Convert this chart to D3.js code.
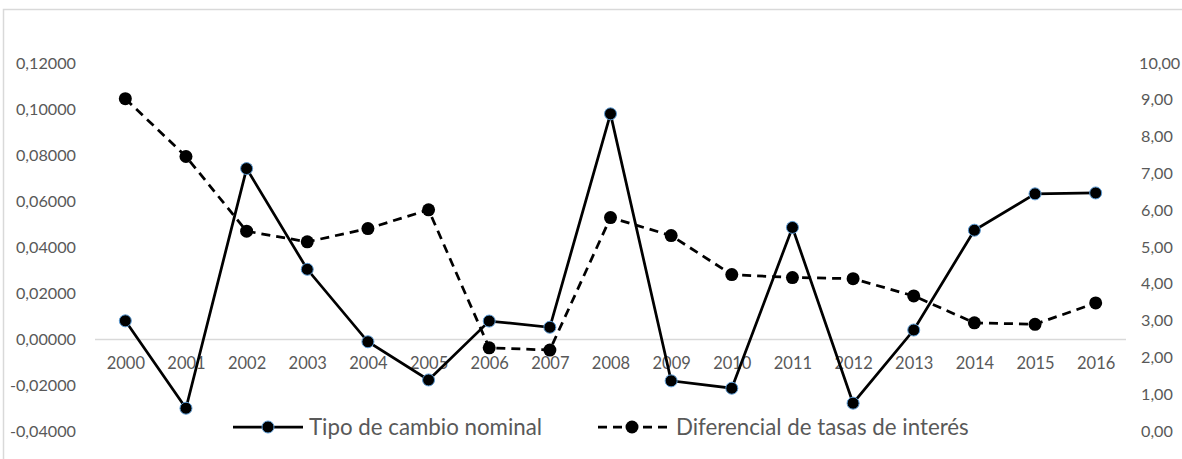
<!DOCTYPE html>
<html>
<head>
<meta charset="utf-8">
<script src="https://cdn.jsdelivr.net/npm/d3@7"></script>
<style>
  html, body { margin: 0; padding: 0; background: #fff; }
  svg text { font-family: Lato, "Open Sans", sans-serif; fill: #595959; }
</style>
</head>
<body>
<svg id="chart" width="1182" height="459"></svg>
<script>
// Years on the category axis
const years = ["2000","2001","2002","2003","2004","2005","2006","2007","2008",
               "2009","2010","2011","2012","2013","2014","2015","2016"];

// Nominal exchange-rate variation (left axis)
const tipoCambio = [0.0079, -0.0301, 0.0741, 0.0303, -0.0012, -0.0178, 0.0078, 0.0051, 0.0979,
                    -0.0182, -0.0214, 0.0485, -0.0279, 0.0039, 0.0473, 0.0631, 0.0635];

// Interest-rate differential (right axis)
const diferencial = [9.03, 7.46, 5.43, 5.14, 5.50, 6.01, 2.26, 2.20, 5.80,
                     5.31, 4.25, 4.17, 4.14, 3.67, 2.94, 2.90, 3.48];

// Axis tick values
const leftTicks = [-0.04, -0.02, 0, 0.02, 0.04, 0.06, 0.08, 0.10, 0.12];
const rightTicks = [0, 1, 2, 3, 4, 5, 6, 7, 8, 9, 10];

const seriesNames = ["Tipo de cambio nominal", "Diferencial de tasas de interés"];

const svg = d3.select("#chart");

// Outer chart frame (only the top and left edges are inside the view)
svg.append("path")
  .attr("d", "M3.5,459 L3.5,9.5 L1182,9.5")
  .attr("fill", "none")
  .attr("stroke", "#d9d9d9")
  .attr("stroke-width", 1.5);

const plot = { left: 95, right: 1126, top: 63, bottom: 431 };

const x = d3.scalePoint()
  .domain(years)
  .range([plot.left, plot.right])
  .padding(0.5);

const yL = d3.scaleLinear().domain([-0.04, 0.12]).range([plot.bottom, plot.top]);
const yR = d3.scaleLinear().domain([0, 10]).range([plot.bottom, plot.top]);

const fmtL = v => d3.format(".5f")(v).replace(".", ",").replace("−", "-");
const fmtR = v => d3.format(".2f")(v).replace(".", ",");

const tickFont = 16.2;

// Left value axis labels
svg.append("g")
  .selectAll("text")
  .data(leftTicks)
  .join("text")
  .attr("x", 76)
  .attr("y", d => yL(d))
  .attr("dy", "0.35em")
  .attr("text-anchor", "end")
  .attr("font-size", tickFont)
  .text(fmtL);

// Right value axis labels
svg.append("g")
  .selectAll("text")
  .data(rightTicks)
  .join("text")
  .attr("x", d => d >= 10 ? 1139 : 1141)
  .attr("y", d => yR(d))
  .attr("dy", "0.35em")
  .attr("text-anchor", "start")
  .attr("font-size", tickFont)
  .text(fmtR);

// Category axis along zero, labels just beneath it
const xAxis = d3.axisBottom(x).tickSize(0).tickPadding(0);
const gx = svg.append("g")
  .attr("transform", `translate(0,${yL(0)})`)
  .call(xAxis);
gx.select(".domain")
  .attr("d", `M${plot.left},0.5H${plot.right}`)
  .attr("stroke", "#d9d9d9")
  .attr("stroke-width", 1.5);
gx.selectAll(".tick text")
  .attr("y", 24)
  .attr("dy", "0.35em")
  .attr("font-size", 16.5)
  .attr("font-family", "Lato, sans-serif")
  .attr("fill", "#595959");

// Interest-rate differential: dashed line with black dots
const lineR = d3.line().x((d, i) => x(years[i])).y(d => yR(d));
svg.append("path")
  .datum(diferencial)
  .attr("d", lineR)
  .attr("fill", "none")
  .attr("stroke", "#000")
  .attr("stroke-width", 2.75)
  .attr("stroke-dasharray", "9,6");
svg.append("g")
  .selectAll("circle")
  .data(diferencial)
  .join("circle")
  .attr("cx", (d, i) => x(years[i]))
  .attr("cy", d => yR(d))
  .attr("r", 6.5)
  .attr("fill", "#000");

// Nominal exchange rate: solid line with blue-rimmed dots
const lineL = d3.line().x((d, i) => x(years[i])).y(d => yL(d));
svg.append("path")
  .datum(tipoCambio)
  .attr("d", lineL)
  .attr("fill", "none")
  .attr("stroke", "#000")
  .attr("stroke-width", 2.75);
svg.append("g")
  .selectAll("circle")
  .data(tipoCambio)
  .join("circle")
  .attr("cx", (d, i) => x(years[i]))
  .attr("cy", d => yL(d))
  .attr("r", 6)
  .attr("fill", "#000")
  .attr("stroke", "#5b9bd5")
  .attr("stroke-width", 1);

// Legend
const legendY = 427;
const legendFont = 22.3;
const lg = svg.append("g");
// solid entry
lg.append("line")
  .attr("x1", 233).attr("x2", 303).attr("y1", legendY).attr("y2", legendY)
  .attr("stroke", "#000").attr("stroke-width", 2.75);
lg.append("circle")
  .attr("cx", 268).attr("cy", legendY).attr("r", 6)
  .attr("fill", "#000").attr("stroke", "#5b9bd5").attr("stroke-width", 1);
lg.append("text")
  .attr("x", 309).attr("y", legendY).attr("dy", "0.35em")
  .attr("font-size", legendFont)
  .text(seriesNames[0]);
// dashed entry
lg.append("line")
  .attr("x1", 598).attr("x2", 668).attr("y1", legendY).attr("y2", legendY)
  .attr("stroke", "#000").attr("stroke-width", 2.75)
  .attr("stroke-dasharray", "9,6");
lg.append("circle")
  .attr("cx", 632).attr("cy", legendY).attr("r", 6.5)
  .attr("fill", "#000");
lg.append("text")
  .attr("x", 676).attr("y", legendY).attr("dy", "0.35em")
  .attr("font-size", legendFont)
  .text(seriesNames[1]);
</script>
</body>
</html>
